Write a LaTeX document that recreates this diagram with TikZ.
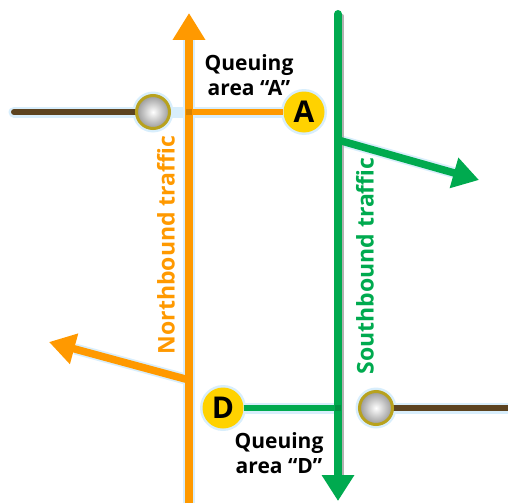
\documentclass[tikz,border=0pt]{standalone}
\usepackage{fontspec}
\setmainfont{Open Sans}
\usetikzlibrary{arrows.meta}
\definecolor{orng}{HTML}{FF9900}
\definecolor{grn}{HTML}{00AA4F}
\definecolor{brwn}{HTML}{5C4320}
\definecolor{yel}{HTML}{FFD200}
\definecolor{gold}{HTML}{B8A21E}
\definecolor{glow}{HTML}{D8EEFC}
\tikzset{
  road/.style={line width=#1},
  glowline/.style={line width=#1, glow},
  letter/.style={circle, fill=yel, minimum size=41pt, inner sep=0pt, font=\bfseries\fontsize{30}{30}\selectfont},
  letterglow/.style={circle, fill=glow, minimum size=46pt, inner sep=0pt},
  stop/.style={circle, draw=gold, line width=3pt, minimum size=33pt, inner sep=0pt, inner color=white, outer color=gray!80},
  stopglow/.style={circle, fill=glow, minimum size=41pt, inner sep=0pt},
  lbl/.style={align=center, font=\bfseries\fontsize{21}{25}\selectfont},
  vlbl/.style={rotate=90, font=\bfseries\fontsize{23}{23}\selectfont},
}
\begin{document}
\begin{tikzpicture}[x=1pt,y=-1pt]
\useasboundingbox (0,0) rectangle (508,503);
% coordinates
\coordinate (nb0) at (189,503);
\coordinate (nb1) at (189,13);
\coordinate (sb0) at (338,14);
\coordinate (sb1) at (338,501);
\coordinate (jA) at (189,112);
\coordinate (jD) at (338,408);
\coordinate (bw0) at (14,112);
\coordinate (bw1) at (508,408);
\coordinate (tA0) at (338,140);
\coordinate (tA1) at (479,180);
\coordinate (tD0) at (189,380);
\coordinate (tD1) at (49,342);
% glows
\draw[glowline=11, line cap=round] (bw0) -- (153,112);
\draw[glowline=11] (153,112) -- (304,112);
\draw[glowline=12] (nb0) -- (189,40);
\draw[glowline=11] (jD) -- (223,408);
\draw[glowline=11] (376,408) -- (bw1);
\draw[glowline=11] (tD0) -- (75,349);
\draw[glowline=11] (tA0) -- (455,173);
\draw[line width=4pt, black!30, line cap=round] (342,16) -- (342,478);
% nodes
\node[stopglow] at (153,112) {};
\node[stopglow] at (376,408) {};
\node[letterglow] at (304,112) {};
\node[letterglow] at (223,408) {};
% roads
\draw[road=6pt, brwn, line cap=round] (bw0) -- (153,112);
\draw[road=6pt, brwn] (376,408) -- (bw1);
\draw[road=8pt, orng, -{Triangle[length=27pt,width=31pt]}] (nb0) -- (nb1);
\draw[road=8pt, grn, line cap=round, -{Triangle[length=26pt,width=31pt]}] (sb0) -- (sb1);
\draw[road=7.5pt, grn, -{Triangle[length=26pt,width=30pt]}] (tA0) -- (tA1);
\draw[road=7.5pt, orng, -{Triangle[length=26pt,width=30pt]}] (tD0) -- (tD1);
\node[stop] (s1) at (153,112) {};
\node[stop] (s2) at (376,408) {};
\node[letter] (A) at (304,112) {A};
\node[letter] (D) at (223,408) {D};
\draw[road=6.5pt, orng] (jA) -- (A);
\draw[road=6.5pt, grn] (D) -- (jD);
\fill[orng!85!black] (186,109) rectangle (192,115);
\fill[grn!85!black] (335,405) rectangle (341,411);
% labels
\node[lbl] (qA) at (249,75) {Queuing\\area “A”};
\node[lbl] (qD) at (279,453) {Queuing\\area “D”};
\node[vlbl, text=orng] (nbl) at (166,245) {Northbound traffic};
\node[vlbl, text=grn] (sbl) at (365,266) {Southbound traffic};
\end{tikzpicture}
\end{document}
